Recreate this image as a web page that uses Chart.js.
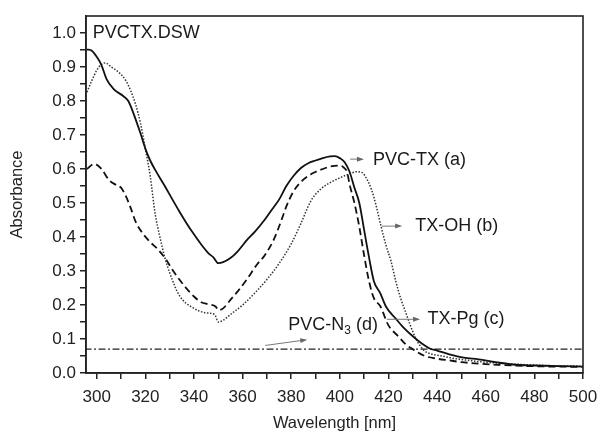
<!DOCTYPE html>
<html>
<head>
<meta charset="utf-8">
<script src="https://cdn.jsdelivr.net/npm/chart.js@4.4.0/dist/chart.umd.min.js"></script>
<style>
html,body{margin:0;padding:0;background:#fff;}
canvas{display:block;}
</style>
</head>
<body>
<canvas id="c" width="599" height="433"></canvas>
<script>
// ---- data ----
const wavelengthA = [296,298,300,302,304,307,311,313,315,318,320,322,324,328,331,334,337,340,343,346,348,350,352,355,358,362,365,369,372,375,378,381,384,387,390,393,396,398,400,402,404,406,408,410,412,414,416.6,419,423,426,430,434,437,440,445,451,457,464,471,480,490,500];
const absorbanceA = [0.952,0.948,0.93,0.905,0.865,0.835,0.814,0.8,0.766,0.705,0.66,0.625,0.598,0.55,0.512,0.475,0.44,0.408,0.378,0.352,0.34,0.323,0.326,0.338,0.358,0.393,0.415,0.45,0.48,0.51,0.55,0.58,0.603,0.617,0.625,0.632,0.637,0.638,0.632,0.62,0.592,0.545,0.5,0.42,0.34,0.27,0.235,0.195,0.16,0.135,0.108,0.085,0.072,0.066,0.055,0.045,0.04,0.032,0.025,0.022,0.02,0.019];

const wavelengthB = [296,298,300,302,303.5,306,309,312,314,316,318,320,322,324,326,328,330,334,339.5,345,348.5,350,352,355,360,365,370,375,380,384,388,392,396,400,404,407,409,411,413,415,417,419,421,423,425,427,429,431,433,435,438,442,446,452,458,465,475,485,500];
const absorbanceB = [0.826,0.86,0.89,0.908,0.912,0.9,0.885,0.86,0.83,0.79,0.735,0.66,0.58,0.47,0.4,0.34,0.295,0.228,0.192,0.177,0.172,0.15,0.155,0.172,0.2,0.235,0.275,0.322,0.38,0.44,0.505,0.54,0.56,0.574,0.586,0.592,0.59,0.572,0.54,0.49,0.43,0.375,0.33,0.27,0.22,0.18,0.14,0.105,0.08,0.064,0.055,0.05,0.044,0.038,0.033,0.029,0.025,0.022,0.02];

const wavelengthC = [296,299,302,305,308,310,312,314,316,319,322,325,328.5,331,334,337,340,343,346,349,350,352,355,358,362,366,369,373,376,378,381,384,389,393,396,400,401.5,403,404,406,408,410,412,414,416.6,420,424,427,430,435,440,445,450,458,465,480,500];
const absorbanceC = [0.6,0.615,0.6,0.568,0.553,0.545,0.52,0.485,0.445,0.41,0.385,0.365,0.334,0.305,0.275,0.248,0.225,0.208,0.202,0.195,0.185,0.19,0.215,0.24,0.278,0.32,0.345,0.395,0.45,0.49,0.535,0.562,0.588,0.6,0.607,0.61,0.605,0.59,0.555,0.5,0.43,0.345,0.27,0.22,0.197,0.14,0.108,0.085,0.07,0.05,0.042,0.037,0.032,0.027,0.024,0.02,0.018];

const wavelengthD = [295,500];
const absorbanceD = [0.07,0.07];

const seriesLabels = ['PVC-TX (a)','TX-OH (b)','TX-Pg (c)','PVC-N3 (d)'];

const xTickValues = [300,310,320,330,340,350,360,370,380,390,400,410,420,430,440,450,460,470,480,490,500];
const xLabelValues = [300,320,340,360,380,400,420,440,460,480,500];
const yTickValues = [0,0.05,0.1,0.15,0.2,0.25,0.3,0.35,0.4,0.45,0.5,0.55,0.6,0.65,0.7,0.75,0.8,0.85,0.9,0.95,1.0];
const yLabelValues = [0,0.1,0.2,0.3,0.4,0.5,0.6,0.7,0.8,0.9,1.0];

// annotation texts placed in data units
const annotations = [
  {parts:[['PVCTX.DSW',false]], wl:298.4, abs:1.0},
  {parts:[['PVC-TX (a)',false]], wl:413.6, abs:0.627, arrow:[404.2,0.629,409.9,0.629]},
  {parts:[['TX-OH (b)',false]], wl:431.0, abs:0.433, arrow:[417.3,0.432,425.6,0.432]},
  {parts:[['TX-Pg (c)',false]], wl:436.0, abs:0.158, arrow:[419.3,0.158,433.0,0.158]},
  {parts:[['PVC-N',false],['3',true],[' (d)',false]], wl:378.8, abs:0.141, arrow:[369.3,0.081,386.6,0.098]}
];

// ---- chart ----
const FONT = '"Liberation Sans", Arial, Helvetica, sans-serif';
const pts = (xs, ys) => xs.map((v,i)=>({x:v, y:ys[i]}));

const overlay = {
  id:'overlay',
  afterDraw(chart){
    const {ctx, chartArea:a, scales} = chart;
    const xs = scales.x, ys = scales.y;
    ctx.save();
    // frame
    ctx.strokeStyle = '#222';
    ctx.lineWidth = 1.6;
    ctx.strokeRect(a.left, a.top, a.right - a.left, a.bottom - a.top);
    // annotations
    ctx.fillStyle = '#1a1a1a';
    ctx.textBaseline = 'middle';
    ctx.textAlign = 'left';
    annotations.forEach(an => {
      let px = xs.getPixelForValue(an.wl);
      const py = ys.getPixelForValue(an.abs);
      an.parts.forEach(([t, sub]) => {
        ctx.font = (sub ? '12px ' : '18px ') + FONT;
        ctx.fillText(t, px, sub ? py + 6 : py);
        px += ctx.measureText(t).width;
      });
      if (an.arrow) {
        const x1 = xs.getPixelForValue(an.arrow[0]), y1 = ys.getPixelForValue(an.arrow[1]);
        const x2 = xs.getPixelForValue(an.arrow[2]), y2 = ys.getPixelForValue(an.arrow[3]);
        const ang = Math.atan2(y2 - y1, x2 - x1);
        ctx.strokeStyle = '#777';
        ctx.fillStyle = '#666';
        ctx.lineWidth = 1;
        ctx.beginPath(); ctx.moveTo(x1, y1); ctx.lineTo(x2 - 5*Math.cos(ang), y2 - 5*Math.sin(ang)); ctx.stroke();
        ctx.beginPath();
        ctx.moveTo(x2, y2);
        ctx.lineTo(x2 - 7*Math.cos(ang) + 2.5*Math.sin(ang), y2 - 7*Math.sin(ang) - 2.5*Math.cos(ang));
        ctx.lineTo(x2 - 7*Math.cos(ang) - 2.5*Math.sin(ang), y2 - 7*Math.sin(ang) + 2.5*Math.cos(ang));
        ctx.closePath(); ctx.fill();
        ctx.fillStyle = '#1a1a1a';
      }
    });
    ctx.restore();
  }
};

const near = (v, arr) => arr.some(a => Math.abs(a - v) < 1e-6);

new Chart(document.getElementById('c'), {
  type:'line',
  data:{
    datasets:[
      {label:seriesLabels[0], data:pts(wavelengthA, absorbanceA), borderColor:'#111', borderWidth:1.8},
      {label:seriesLabels[1], data:pts(wavelengthB, absorbanceB), borderColor:'#333', borderWidth:1.5, borderDash:[1.5,1.6]},
      {label:seriesLabels[2], data:pts(wavelengthC, absorbanceC), borderColor:'#111', borderWidth:1.8, borderDash:[7,4]},
      {label:seriesLabels[3], data:pts(wavelengthD, absorbanceD), borderColor:'#222', borderWidth:1.3, borderDash:[7,2.5,2,2.5]}
    ]
  },
  options:{
    responsive:false,
    animation:false,
    devicePixelRatio:1,
    layout:{padding:{top:16, right:16, left:0, bottom:0}},
    elements:{point:{radius:0}, line:{cubicInterpolationMode:'monotone', fill:false}},
    plugins:{legend:{display:false}, tooltip:{enabled:false}},
    scales:{
      x:{
        type:'linear', min:295.6, max:500,
        afterBuildTicks: s => { s.ticks = xTickValues.map(v => ({value:v})); },
        afterFit: s => { s.height = 60; s.paddingRight = 0; s.paddingLeft = 0; },
        grid:{display:true, drawOnChartArea:false, drawTicks:true, tickLength:6, color:'#222', lineWidth:1.5},
        border:{display:true, color:'#222', width:1.6},
        ticks:{autoSkip:false, maxRotation:0, padding:8, color:'#222', font:{family:FONT, size:17},
          callback: v => near(v, xLabelValues) ? String(v) : ''},
        title:{display:true, text:'Wavelength [nm]', color:'#222', font:{family:FONT, size:16.5}, padding:{top:0, bottom:0}}
      },
      y:{
        type:'linear', min:0, max:1.05,
        afterBuildTicks: s => { s.ticks = yTickValues.map(v => ({value:v})); },
        afterFit: s => { s.width = 86; s.paddingTop = 0; s.paddingBottom = 0; },
        grid:{display:true, drawOnChartArea:false, drawTicks:true, tickLength:6, color:'#222', lineWidth:1.5},
        border:{display:true, color:'#222', width:1.6},
        ticks:{autoSkip:false, padding:4, color:'#222', font:{family:FONT, size:17},
          callback: v => near(v, yLabelValues) ? v.toFixed(1) : ''},
        title:{display:true, text:'Absorbance', color:'#222', font:{family:FONT, size:16.5}, padding:{top:8, bottom:0}}
      }
    }
  },
  plugins:[overlay]
});
</script>
</body>
</html>
